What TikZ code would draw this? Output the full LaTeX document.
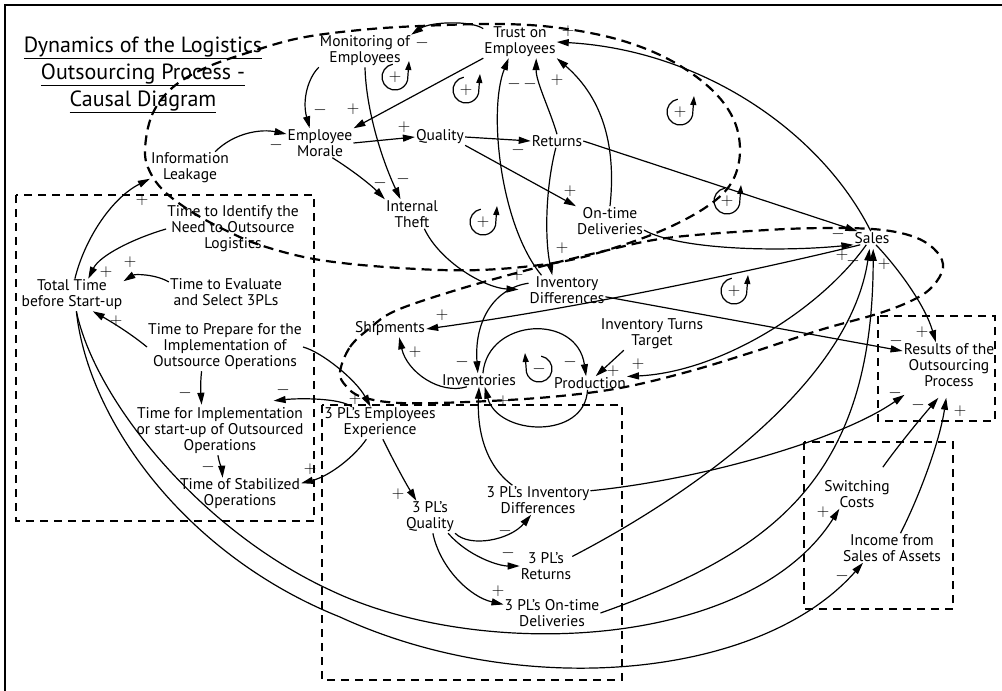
\documentclass[tikz,border=0pt]{standalone}
\usepackage{fontspec}
\setmainfont{PT Sans}
\usetikzlibrary{arrows.meta}
\tikzset{
  pics/fbloop/.style={code={
    \draw[line width=1.2pt,-{Triangle[length=9pt,width=6pt]}]
      (100:13pt) arc[start angle=100,end angle=345,radius=13pt] -- (14pt,16pt);
    \node[inner sep=0pt,font=\fontsize{17}{17}\selectfont] (-s) at (0,0) {#1};
  }}
}
\begin{document}
\begin{tikzpicture}[x=1pt,y=-1pt,
  lbl/.style={align=center, inner sep=1pt, font=\fontsize{15.5}{16}\selectfont},
  ttl/.style={align=center, inner sep=0pt, font=\fontsize{22}{27}\selectfont},
  sgn/.style={inner sep=0pt, font=\fontsize{16}{16}\selectfont},
  link/.style={line width=1.2pt, -{Triangle[length=12pt,width=7pt]}},
  zone/.style={line width=2.2pt, dash pattern=on 8pt off 6pt},
  loopline/.style={line width=2.2pt, dash pattern=on 10pt off 6pt},
]
\useasboundingbox (0,0) rectangle (1002,691);
% frame
\draw[line width=1.6pt] (5,691) -- (5,5) -- (1002,5);

% grouping boxes
\draw[zone] (16,195) rectangle (314,521);
\draw[zone] (322,405) rectangle (622,680);
\draw[zone] (878,316) rectangle (995,421);
\draw[zone] (804,442) rectangle (953,609);

% feedback regions
\draw[loopline] plot[smooth cycle, tension=0.6] coordinates {
  (145,150) (152,115) (172,88) (205,68) (250,52) (300,38) (360,30) (420,26)
  (500,24) (560,28) (620,40) (670,60) (710,88) (733,118) (740,150) (733,180)
  (712,203) (672,226) (620,246) (560,262) (480,270) (400,268) (320,260)
  (263,246) (225,230) (192,212) (165,192) (150,172)};
\draw[loopline] plot[smooth cycle, tension=0.6] coordinates {
  (340,372) (350,347) (370,328) (395,311) (450,292) (520,272) (600,252)
  (667,238) (767,230) (833,228) (883,230) (917,238) (937,252) (943,268)
  (933,286) (915,299) (880,313) (820,330) (753,352) (687,372) (620,388)
  (550,397) (467,402) (400,403) (362,397) (346,386)};

% title
\node[ttl] (title) at (143,75) {\underline{Dynamics of the Logistics}\\\underline{Outsourcing Process -}\\\underline{Causal Diagram}};

% variables
\node[lbl] (mon) at (365,51) {Monitoring of\\Employees};
\node[lbl] (trust) at (520,42) {Trust on\\Employees};
\node[lbl] (morale) at (320,143) {Employee\\Morale};
\node[lbl] (quality) at (440,137) {Quality};
\node[lbl] (returns) at (557,141) {Returns};
\node[lbl] (leak) at (190,168) {Information\\Leakage};
\node[lbl] (theft) at (412,214) {Internal\\Theft};
\node[lbl] (ontime) at (610,221) {On-time\\Deliveries};
\node[lbl] (sales) at (872,238) {Sales};
\node[lbl] (ident) at (233,229) {Time to Identify the\\Need to Outsource\\Logistics};
\node[lbl] (total) at (72,295) {Total Time\\before Start-up};
\node[lbl] (evalu) at (226,292) {Time to Evaluate\\and Select 3PLs};
\node[lbl] (prep) at (225,347) {Time to Prepare for the\\Implementation of\\Outsource Operations};
\node[lbl] (impl) at (220,431) {Time for Implementation\\or start-up of Outsourced\\Operations};
\node[lbl] (stab) at (240,494) {Time of Stabilized\\Operations};
\node[lbl] (invdiff) at (567,290) {Inventory\\Differences};
\node[lbl] (ship) at (390,329) {Shipments};
\node[lbl] (turns) at (652,334) {Inventory Turns\\Target};
\node[lbl] (inv) at (479,380) {Inventories};
\node[lbl] (prod) at (590,383) {Production};
\node[lbl] (exp) at (380,423) {3 PL’s Employees\\Experience};
\node[lbl] (qthree) at (430,517) {3 PL’s\\Quality};
\node[lbl] (idthree) at (538,500) {3 PL’s Inventory\\Differences};
\node[lbl] (retthree) at (546,566) {3 PL’s\\Returns};
\node[lbl] (otthree) at (552,613) {3 PL’s On-time\\Deliveries};
\node[lbl] (results) at (949,365) {Results of the\\Outsourcing\\Process};
\node[lbl] (switch) at (857,494) {Switching\\Costs};
\node[lbl] (income) at (892,548) {Income from\\Sales of Assets};

% loop markers
\pic (La) at (395,77) {fbloop={$+$}};
\pic (Lb) at (466,90) {fbloop={$+$}};
\pic (Lc) at (483,222) {fbloop={$+$}};
\pic (Ld) at (680,112) {fbloop={$+$}};
\pic (Le) at (727,201) {fbloop={$+$}};
\pic (Lf) at (734,291) {fbloop={$+$}};
\pic[xscale=-1] (Lg) at (539,369) {fbloop={$-$}};

% employee block
\draw[link] (trust.160) .. controls (470,20) and (430,22) .. (mon.north east);
\draw[link] (mon.south west) .. controls (308,78) and (302,100) .. (morale.125);
\draw[link] (mon.south) .. controls (366,110) and (382,160) .. (theft.128);
\draw[link] (trust.south west) -- (morale.north east);
\draw[link] (morale.east) -- (quality.west);
\draw[link] (morale.-50) .. controls (355,172) and (372,186) .. (theft.north west);
\draw[link] (quality.east) -- (returns.west);
\draw[link] (quality.south east) -- (ontime.north west);
\draw[link] (leak.33) .. controls (235,132) and (262,129) .. (morale.165);
\draw[link] (invdiff.150) .. controls (500,225) and (488,110) .. (trust.235);
\draw[link] (returns.north) .. controls (550,110) and (536,82) .. (trust.-45);
\draw[link] (ontime.north) .. controls (616,150) and (605,100) .. (trust.south east);
\draw[link] (returns.-100) .. controls (545,190) and (545,240) .. (invdiff.135);
\draw[link] (sales.100) .. controls (820,130) and (700,50) .. (trust.east);
\draw[link] (returns.east) -- (sales.155);
\draw[link] (ontime.-15) .. controls (680,250) and (780,252) .. (sales.200);

% inventory block
\draw[link] (sales.210) .. controls (790,262) and (600,305) .. (ship.east);
\draw[link] (invdiff.-10) -- ([shift={(0,-14)}]results.west);
\draw[link, shorten >=10pt] (theft.-50) .. controls (440,262) and (485,288) .. (invdiff.west);
\draw[link] (invdiff.170) .. controls (495,288) and (474,320) .. (inv.100);
\draw[link] (inv.60) .. controls (488,318) and (577,313) .. (prod.120);
\draw[link] (prod.-110) .. controls (585,440) and (498,436) .. (inv.-50);
\draw[link] (idthree.150) .. controls (485,465) and (477,430) .. (inv.south);
\draw[link] (inv.-151) .. controls (440,395) and (407,372) .. (ship.-42);
\draw[link] (turns.-150) -- (prod.50);
\draw[link] (sales.230) .. controls (820,310) and (720,372) .. (prod.10);
\draw[link] (sales.-60) .. controls (898,268) and (925,305) .. (results.120);

% third-party block
\draw[link] (idthree.10) .. controls (700,480) and (840,440) .. ([shift={(2,7)}]results.south west);
\draw[link, shorten >=4pt] (retthree.20) .. controls (700,490) and (850,380) .. (sales.-105);
\draw[link, shorten >=4pt] (otthree.east) .. controls (770,553) and (873,480) .. (sales.-80);
\draw[link] (exp.-130) .. controls (355,456) and (330,476) .. (stab.10);
\draw[link] (exp.-80) .. controls (393,460) and (405,482) .. (qthree.130);
\draw[link] (qthree.south east) .. controls (470,548) and (510,540) .. (idthree.-115);
\draw[link] (qthree.-42) .. controls (468,556) and (498,566) .. (retthree.west);
\draw[link] (qthree.-80) .. controls (440,568) and (470,597) .. (otthree.170);
\draw[link] (prep.east) .. controls (322,352) and (356,380) .. (exp.120);
\draw[link] (exp.150) .. controls (340,398) and (300,398) .. ([shift={(-31,-6)}]impl.north east);

% time block
\draw[link, shorten >=2pt] (prep.-134) .. controls (200,385) and (201,395) .. (impl.127);
\draw[link] (impl.-95) .. controls (219,462) and (222,470) .. (stab.137);
\draw[link] (prep.west) .. controls (130,333) and (110,321) .. (total.-38);
\draw[link] (evalu.170) .. controls (155,274) and (135,274) .. (total.15);
\draw[link] (ident.west) .. controls (135,238) and (100,255) .. (total.45);
\draw[link] (total.80) .. controls (85,238) and (112,198) .. (leak.-165);
\draw[link] (total.-75) .. controls (95,400) and (200,530) .. (330,590)
  .. controls (480,662) and (750,650) .. (switch.-140);
\draw[link] (total.-75) .. controls (88,420) and (185,555) .. (340,617)
  .. controls (520,700) and (760,680) .. (income.-153);
\draw[link] ([shift={(-8,-12)}]switch.north east) .. controls (895,450) and (915,425) .. ([shift={(0,10)}]results.-115);
\draw[link] (income.60) .. controls (920,495) and (940,440) .. ([shift={(0,10)}]results.-97);

% polarities
\node[sgn] (p1) at (422,43) {$-$};
\node[sgn] (p2) at (320,110) {$-$};
\node[sgn] (p3) at (403,179) {$-$};
\node[sgn] (p4) at (353,109) {$+$};
\node[sgn] (p5) at (404,127) {$+$};
\node[sgn] (p6) at (380,183) {$-$};
\node[sgn] (p7) at (518,150) {$-$};
\node[sgn] (p8) at (570,191) {$+$};
\node[sgn] (p9) at (276,145) {$-$};
\node[sgn] (p10) at (514,84) {$-$};
\node[sgn] (p11) at (530,84) {$-$};
\node[sgn] (p12) at (557,80) {$+$};
\node[sgn] (p13) at (562,248) {$+$};
\node[sgn] (p14) at (568,31) {$+$};
\node[sgn] (p15) at (838,234) {$-$};
\node[sgn] (p16) at (842,255) {$+$};
\node[sgn] (p17) at (442,315) {$+$};
\node[sgn] (p18) at (896,341) {$-$};
\node[sgn] (p19) at (517,275) {$+$};
\node[sgn] (p20) at (462,362) {$-$};
\node[sgn] (p21) at (570,362) {$-$};
\node[sgn] (p22) at (503,401) {$+$};
\node[sgn] (p23) at (415,352) {$+$};
\node[sgn] (p24) at (613,371) {$+$};
\node[sgn] (p25) at (638,364) {$+$};
\node[sgn] (p26) at (922,332) {$+$};
\node[sgn] (p27) at (895,393) {$-$};
\node[sgn] (p28) at (853,261) {$-$};
\node[sgn] (p29) at (884,264) {$+$};
\node[sgn] (p30) at (823,512) {$+$};
\node[sgn] (p31) at (842,576) {$-$};
\node[sgn] (p32) at (918,405) {$-$};
\node[sgn] (p33) at (960,411) {$+$};
\node[sgn] (p34) at (310,469) {$+$};
\node[sgn] (p35) at (398,494) {$+$};
\node[sgn] (p36) at (505,531) {$-$};
\node[sgn] (p37) at (508,553) {$-$};
\node[sgn] (p38) at (498,591) {$+$};
\node[sgn] (p39) at (355,399) {$+$};
\node[sgn] (p40) at (283,390) {$-$};
\node[sgn] (p41) at (185,393) {$-$};
\node[sgn] (p42) at (208,467) {$-$};
\node[sgn] (p43) at (116,321) {$+$};
\node[sgn] (p44) at (130,262) {$+$};
\node[sgn] (p45) at (106,272) {$+$};
\node[sgn] (p46) at (142,200) {$+$};
\end{tikzpicture}
\end{document}
